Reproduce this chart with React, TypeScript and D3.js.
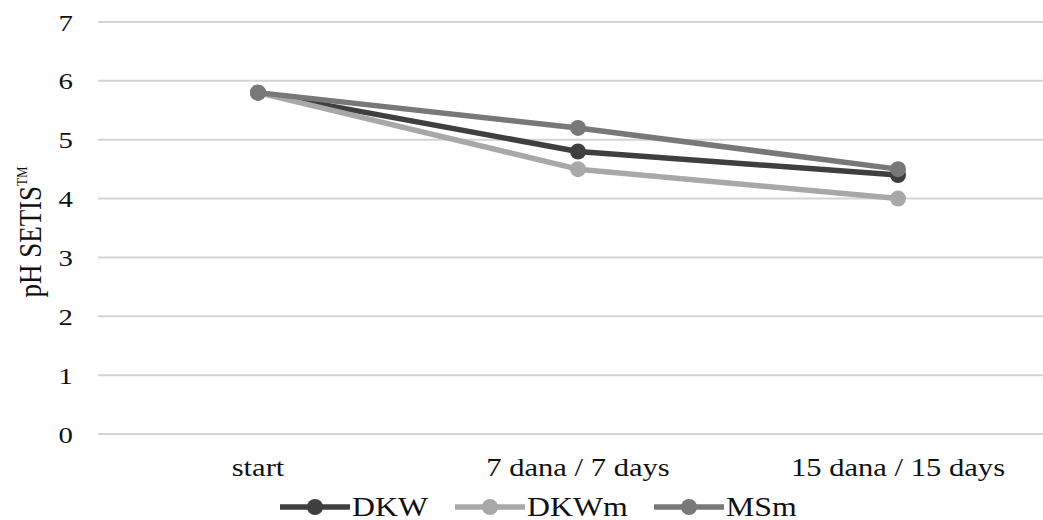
import React from "react";
import * as d3 from "d3";

const categories = ["start", "7 dana / 7 days", "15 dana / 15 days"];
const seriesNames = ["DKW", "DKWm", "MSm"];
const dkw = [5.8, 4.8, 4.4];
const dkwm = [5.8, 4.5, 4.0];
const msm = [5.8, 5.2, 4.5];
const yTicks = [0, 1, 2, 3, 4, 5, 6, 7];
const colors = ["#3f3f3f", "#a8a8a8", "#787878"];

const W = 1043;
const H = 520;
const SX = 1.2;
const FONT = "'Liberation Serif', 'Times New Roman', serif";

export default function App() {
  const x = d3.scalePoint<string>().domain(categories).range([98, 1058]).padding(0.5);
  const y = d3.scaleLinear().domain([0, 7]).range([434, 22]);
  const data = [dkw, dkwm, msm];
  const line = d3
    .line<number>()
    .x((_, i) => x(categories[i]) as number)
    .y((d) => y(d));

  const legendX = [280, 455, 654];

  const txt = (
    key: string | number,
    tx: number,
    ty: number,
    content: React.ReactNode,
    anchor: string,
    size: number
  ) => (
    <text
      key={key}
      transform={`translate(${tx},${ty}) scale(${SX},1)`}
      textAnchor={anchor}
      fontFamily={FONT}
      fontSize={size}
      fill="#111"
    >
      {content}
    </text>
  );

  return (
    <svg
      width={W}
      height={H}
      style={{ position: "absolute", left: 0, top: 0, background: "#fff" }}
    >
      <rect width={W} height={H} fill="#fff" />
      {yTicks.map((t) => (
        <line key={"g" + t} x1={98} x2={W} y1={y(t)} y2={y(t)} stroke="#d4d4d4" strokeWidth={2} />
      ))}
      {yTicks.map((t) => txt("t" + t, 73, y(t) + 8.5, String(t), "end", 24))}
      <text
        transform={`translate(41,232) scale(${SX},1) rotate(-90)`}
        textAnchor="middle"
        fontFamily={FONT}
        fontSize={27}
        fill="#111"
      >
        pH SETIS
        <tspan fontSize={13} dy={-12}>TM</tspan>
      </text>
      {categories.map((c) => txt("c" + c, x(c) as number, 476, c, "middle", 25.5))}
      {data.map((s, i) => (
        <g key={"s" + i}>
          <path d={line(s) || ""} fill="none" stroke={colors[i]} strokeWidth={5.5} strokeLinejoin="round" />
          {s.map((v, j) => (
            <circle key={j} cx={x(categories[j]) as number} cy={y(v)} r={8} fill={colors[i]} />
          ))}
        </g>
      ))}
      {seriesNames.map((n, i) => (
        <g key={"l" + n}>
          <line x1={legendX[i]} x2={legendX[i] + 70} y1={507} y2={507} stroke={colors[i]} strokeWidth={5.5} />
          <circle cx={legendX[i] + 35} cy={507} r={8} fill={colors[i]} />
          {txt("lt" + n, legendX[i] + 72, 516, n, "start", 26.5)}
        </g>
      ))}
    </svg>
  );
}
